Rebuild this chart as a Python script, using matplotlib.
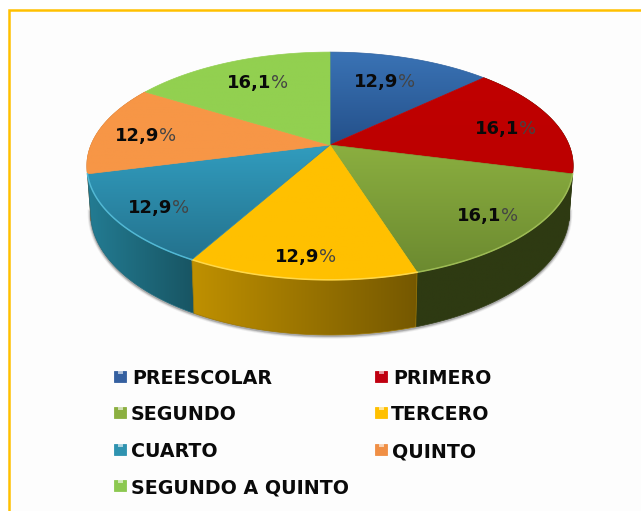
import numpy as np
import matplotlib
matplotlib.use('Agg')
import matplotlib.pyplot as plt
from matplotlib.patches import Polygon, Rectangle
from matplotlib.colors import to_rgb

# data
categories = ['PREESCOLAR', 'PRIMERO', 'SEGUNDO', 'TERCERO', 'CUARTO', 'QUINTO', 'SEGUNDO A QUINTO']
values = [12.9, 16.1, 16.1, 12.9, 12.9, 12.9, 16.1]
value_labels = ['12,9', '16,1', '16,1', '12,9', '12,9', '12,9', '16,1']

# top colours (upper, lower), wall colours (left, right), legend colours
top_colors = [('#3A73B5', '#24508A'), ('#C00000', '#BC0000'), ('#8BAF40', '#6C8A30'),
              ('#FFC000', '#FFC000'), ('#319CBE', '#24728D'), ('#F79646', '#F79646'),
              ('#92D050', '#92D050')]
wall_colors = [('#1F3D66', '#1F3D66'), ('#2E3A12', '#2E3A12'), ('#2E3A12', '#2E3A12'),
               ('#BF9000', '#755800'), ('#237C93', '#185563'), ('#B86E30', '#B86E30'),
               ('#6C9A3A', '#6C9A3A')]
legend_colors = ['#3560A0', '#C00010', '#8BAF40', '#FFC000', '#2F93B0', '#F08F45', '#8CC850']

label_x = [354, 475, 457, 275, 128, 115, 227]
label_y = [87, 134, 221, 262, 213, 141, 88]
legend_x = [114, 375, 114, 375, 114, 375, 114]
legend_text_x = [132, 393, 131, 391, 131, 392, 131]
legend_y = [384, 384, 420, 420, 457, 457, 493]

# pie projection (perspective of a circle, pixels)
cx, cy, a, b, k, depth = 330, 145, 239, 110, 0.184, 45


def rim(t0, t1, down=False):
    t = np.radians(np.linspace(t0, t1, 80))
    x, y = np.sin(t), np.cos(t)
    d = 1 + k * y
    px = cx + a * x / d
    py = cy - b * y / d
    if down:
        # the lower rim is a little narrower than the upper one
        px = cx + (px - cx) * 0.985
        py = py + depth / d
    return px, py


def gradient_fill(ax, xy, c0, c1, vertical):
    xy = np.asarray(xy)
    c0, c1 = np.array(to_rgb(c0)), np.array(to_rgb(c1))
    f = np.linspace(0, 1, 128)[:, None]
    grad = c0 + (c1 - c0) * f
    grad = grad[:, None, :] if vertical else grad[None, :, :]
    x0, x1, y0, y1 = xy[:, 0].min(), xy[:, 0].max(), xy[:, 1].min(), xy[:, 1].max()
    im = ax.imshow(grad, extent=(x0, x1, y1, y0), aspect='auto', zorder=ax.nz)
    patch = Polygon(xy, closed=True, fc='none', ec='none', transform=ax.transData)
    ax.add_patch(patch)
    im.set_clip_path(patch)
    # thin same coloured edge hides seams between slices
    ax.add_patch(Polygon(xy, closed=True, fc='none', ec=(c0 + c1) / 2, lw=0.5, zorder=ax.nz))
    ax.nz += 1


fig = plt.figure(figsize=(6.41, 5.11), dpi=100, facecolor='white')
ax = fig.add_axes([0, 0, 1, 1])
ax.nz = 3
ax.axis('off')

# frame, only the left and top sides are in view
ax.add_patch(Rectangle((9, 10), 700, 600, fc='#FDFDFD', ec='#FFC000', lw=1.8, zorder=1))

edges = np.cumsum([0] + values) / sum(values) * 360

# soft shadow under the wall
sx, sy = rim(100, 260, down=True)
for lw, al in [(4, 0.10), (2.6, 0.18), (1.4, 0.30)]:
    ax.plot(sx, sy + 1, color='#555555', lw=lw, alpha=al, zorder=2)

# walls back to front, only the front half shows
for i in [1, 5, 2, 4, 3]:
    t0, t1 = edges[i], edges[i + 1]
    tx, ty = rim(t0, t1)
    bx, by = rim(t0, t1, down=True)
    xy = np.column_stack([np.r_[tx, bx[::-1]], np.r_[ty, by[::-1]]])
    c0, c1 = wall_colors[i]
    gradient_fill(ax, xy, c0, c1, False)

# top faces
for i in range(len(values)):
    tx, ty = rim(edges[i], edges[i + 1])
    xy = np.column_stack([np.r_[cx, tx], np.r_[cy, ty]])
    c0, c1 = top_colors[i]
    gradient_fill(ax, xy, c0, c1, True)

# light rim on the front edge
for i, col in [(2, '#9DBB55'), (3, '#FFD84A'), (4, '#52B8D4')]:
    tx, ty = rim(edges[i], edges[i + 1])
    ax.plot(tx, ty, color=col, lw=1.1, zorder=ax.nz)

# value labels, number bold and percent sign light as in the picture
for lab, x, y in zip(value_labels, label_x, label_y):
    t = ax.text(x, y, lab, fontsize=13, fontweight='bold', family='DejaVu Sans',
                color='#0A0A0A', va='baseline', ha='left', zorder=ax.nz + 1)
    ax.annotate('%', xy=(1, 0), xycoords=t, fontsize=13, family='DejaVu Sans',
                color='#444444', va='bottom', ha='left', zorder=ax.nz + 1)

# legend
for name, col, mx, tx, y in zip(categories, legend_colors, legend_x, legend_text_x, legend_y):
    ax.add_patch(Rectangle((mx, y - 13), 12, 11, fc=col, ec=col, lw=0.6, zorder=ax.nz))
    ax.add_patch(Rectangle((mx + 3.5, y - 12.5), 5, 3, fc='white', ec='none', alpha=0.6, zorder=ax.nz + 1))
    ax.text(tx, y, name, fontsize=13.7, fontweight='bold', family='DejaVu Sans', color='#0A0A0A',
            va='baseline', ha='left', zorder=ax.nz + 1)

ax.set_xlim(0, 641)
ax.set_ylim(511, 0)
fig.savefig('out.png', dpi=100, facecolor='white')
